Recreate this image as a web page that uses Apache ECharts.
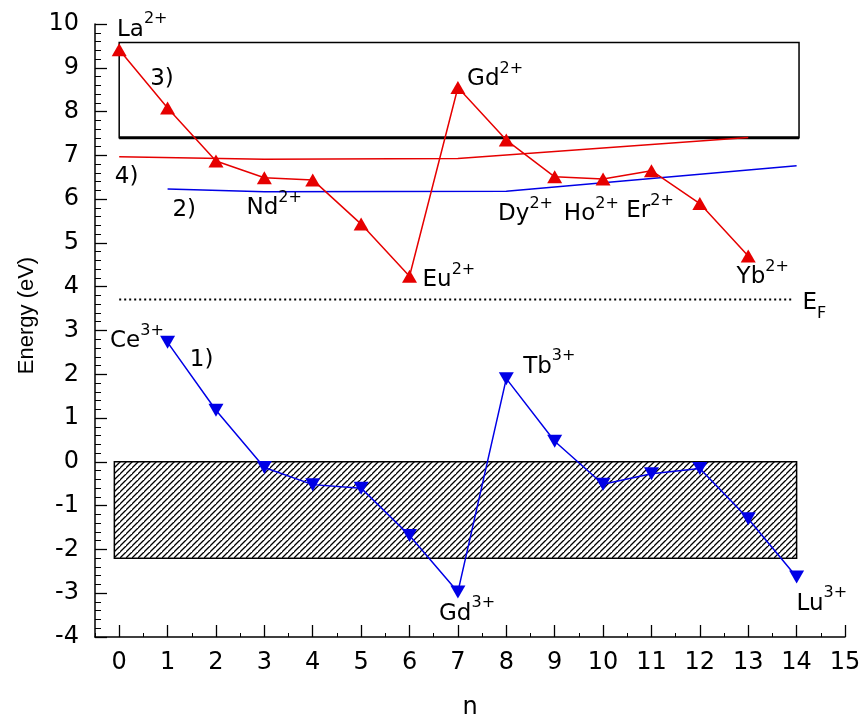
<!DOCTYPE html>
<html>
<head>
<meta charset="utf-8">
<script src="https://cdn.jsdelivr.net/npm/echarts@6/dist/echarts.min.js"></script>
<style>
html,body{margin:0;padding:0;background:#fff;}
#chart{width:859px;height:722px;}
</style>
</head>
<body>
<div id="chart"></div>
<script>
// ---- data ----
const nDivalent = [0,1,2,3,4,5,6,7,8,9,10,11,12,13];
const energyDivalent = [9.41,8.08,6.87,6.49,6.44,5.43,4.24,8.55,7.35,6.51,6.46,6.65,5.90,4.70];
const nTrivalent = [1,2,3,4,5,6,7,8,9,10,11,12,13,14];
const energyTrivalent = [2.73,1.18,-0.13,-0.52,-0.60,-1.68,-2.97,1.90,0.47,-0.51,-0.27,-0.15,-1.30,-2.63];
const curve4N = [0,3,7,13];
const curve4E = [6.97,6.91,6.93,7.41];
const curve2N = [1,3,8,14];
const curve2E = [6.23,6.17,6.18,6.76];
const fermiN = [0,13.92];
const fermiE = [3.71,3.71];
const conductionBox = [0,14.05,7.40,9.58];   // xFrom, xTo, yFrom, yTo
const valenceBand = [-0.1,14.0,-2.20,0];      // xFrom, xTo, yFrom, yTo
const xTickValues = [0,1,2,3,4,5,6,7,8,9,10,11,12,13,14,15];
const xMinorValues = [-0.5,0.5,1.5,2.5,3.5,4.5,5.5,6.5,7.5,8.5,9.5,10.5,11.5,12.5,13.5,14.5];
const annText = ['{b|La}{s|2+}','{b|3)}','{b|4)}','{b|2)}','{b|Nd}{s|2+}','{b|Eu}{s|2+}','{b|Gd}{s|2+}',
  '{b|Dy}{s|2+}','{b|Ho}{s|2+}','{b|Er}{s|2+}','{b|Yb}{s|2+}','{e|E}{f|F}','{b|Ce}{s|3+}','{b|1)}',
  '{b|Tb}{s|3+}','{b|Gd}{s|3+}','{b|Lu}{s|3+}'];
const annX = [-0.045,0.64,-0.09,1.10,2.63,6.27,7.19,7.83,9.19,10.48,12.76,14.12,-0.19,1.46,8.35,6.61,14.0];
const annY = [9.95,8.83,6.59,5.83,5.87,4.23,8.82,5.73,5.73,5.81,4.30,3.54,2.84,2.40,2.25,-3.39,-3.16];

const RED = '#e60000', BLUE = '#0000e6';
const FONT = '"DejaVu Sans", "Liberation Sans", Arial, sans-serif';
const FONT2 = '"Liberation Sans", Arial, Helvetica, sans-serif';

// hatch pattern
const pc = document.createElement('canvas');
const S = 6;
pc.width = S; pc.height = S;
const g = pc.getContext('2d');
g.fillStyle = '#fff'; g.fillRect(0,0,S,S);
g.strokeStyle = '#000'; g.lineWidth = 1.3;
g.beginPath();
g.moveTo(-1,S+1); g.lineTo(S+1,-1);
g.moveTo(-S-1,S+1); g.lineTo(1,-1);
g.moveTo(S-1,2*S+1); g.lineTo(2*S+1,S-1);
g.stroke();
const hatch = {image: pc, repeat: 'repeat'};

function zip(a,b){ return a.map((v,i)=>[v,b[i]]); }

function rectSeries(box, fill, lw){
  return {
    type: 'custom', silent: true, z: 1,
    data: [box],
    encode: {x:[0,1], y:[2,3]},
    renderItem: function(params, api){
      const p1 = api.coord([api.value(0), api.value(3)]);
      const p2 = api.coord([api.value(1), api.value(2)]);
      return {type:'rect', shape:{x:p1[0], y:p1[1], width:p2[0]-p1[0], height:p2[1]-p1[1]},
        style:{fill: fill, stroke:'#000', lineWidth: lw}};
    }
  };
}

const chart = echarts.init(document.getElementById('chart'));
chart.setOption({
  backgroundColor: '#fff',
  animation: false,
  grid: {left: 95, right: 14, top: 24, bottom: 85, containLabel: false, outerBoundsMode: 'none'},
  xAxis: [{
    type: 'value', min: -0.5, max: 15, position: 'bottom',
    name: 'n', nameLocation: 'middle', nameGap: 59,
    nameTextStyle: {fontSize: 24, color: '#000', fontFamily: FONT},
    axisLine: {onZero: false, lineStyle: {color: '#000', width: 1.5}},
    axisTick: {inside: true, length: 12, customValues: xTickValues, lineStyle: {color: '#000', width: 1.3}},
    axisLabel: {customValues: xTickValues, fontSize: 24, color: '#000', fontFamily: FONT, margin: 14},
    splitLine: {show: false}
  },{
    type: 'value', min: -0.5, max: 15, position: 'bottom',
    axisLine: {show: false, onZero: false},
    axisTick: {inside: true, length: 4, customValues: xMinorValues, lineStyle: {color: '#000', width: 1}},
    axisLabel: {show: false},
    splitLine: {show: false}
  }],
  yAxis: {
    type: 'value', min: -4, max: 10, interval: 1,
    name: 'Energy (eV)', nameLocation: 'middle', nameGap: 56, nameRotate: 90,
    nameTextStyle: {fontSize: 22, color: '#000', fontFamily: FONT2, padding: [0,0,0,30]},
    axisLine: {onZero: false, lineStyle: {color: '#000', width: 1.5}},
    axisTick: {inside: true, length: 12, lineStyle: {color: '#000', width: 1.3}},
    minorTick: {show: true, splitNumber: 5, length: 6, lineStyle: {color: '#000', width: 1}},
    axisLabel: {fontSize: 24, color: '#000', fontFamily: FONT, margin: 16},
    splitLine: {show: false}
  },
  series: [
    rectSeries(valenceBand, hatch, 1.5),
    rectSeries(conductionBox, 'rgba(0,0,0,0)', 1.5),
    {type: 'line', data: [[conductionBox[0], conductionBox[2]],[conductionBox[1], conductionBox[2]]],
      symbol: 'none', silent: true, z: 2, lineStyle: {color: '#000', width: 3}},
    {type: 'line', data: zip(fermiN, fermiE), symbol: 'none', silent: true, z: 2,
      lineStyle: {color: '#000', width: 2, type: [2,3]}},
    {type: 'line', data: zip(curve4N, curve4E), symbol: 'none', silent: true, z: 3,
      lineStyle: {color: RED, width: 1.5}},
    {type: 'line', data: zip(curve2N, curve2E), symbol: 'none', silent: true, z: 3,
      lineStyle: {color: BLUE, width: 1.5}},
    {type: 'line', data: zip(nDivalent, energyDivalent), symbol: 'triangle', symbolSize: [15,13],
      silent: true, z: 4, lineStyle: {color: RED, width: 1.5}, itemStyle: {color: RED}},
    {type: 'line', data: zip(nTrivalent, energyTrivalent), symbol: 'triangle', symbolSize: [15,13],
      symbolRotate: 180, silent: true, z: 4, lineStyle: {color: BLUE, width: 1.5}, itemStyle: {color: BLUE}},
    {type: 'scatter', silent: true, z: 5, symbolSize: 0,
      itemStyle: {opacity: 1},
      data: annX.map((x,i)=>[x, annY[i], annText[i]]),
      label: {
        show: true, position: 'right', distance: 0, opacity: 1, color: '#000',
        formatter: p => p.value[2],
        rich: {
          b: {fontSize: 23, lineHeight: 30, verticalAlign: 'bottom', color: '#000', fontFamily: FONT},
          s: {fontSize: 16, lineHeight: 16, verticalAlign: 'top', color: '#000', fontFamily: FONT},
          e: {fontSize: 23, lineHeight: 30, verticalAlign: 'top', color: '#000', fontFamily: FONT},
          f: {fontSize: 16, lineHeight: 16, verticalAlign: 'bottom', color: '#000', fontFamily: FONT}
        }
      }
    }
  ]
});
</script>
</body>
</html>
